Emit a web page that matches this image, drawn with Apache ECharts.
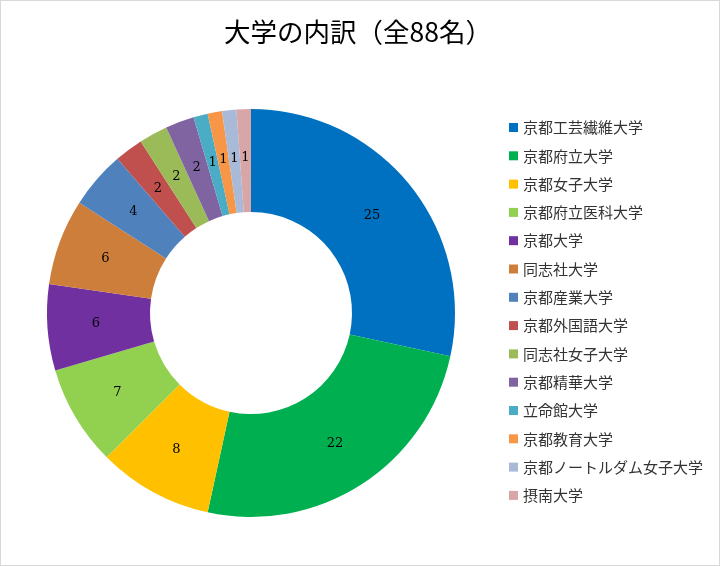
<!DOCTYPE html>
<html><head><meta charset="utf-8">
<script src="https://cdn.jsdelivr.net/npm/echarts@6/dist/echarts.min.js"></script>
<style>html,body{margin:0;padding:0;background:#fff}#c{width:718px;height:564px;border:1px solid #d9d9d9}</style>
</head><body><div id="c"></div>
<script>
const categories = ['京都工芸繊維大学','京都府立大学','京都女子大学','京都府立医科大学','京都大学','同志社大学','京都産業大学','京都外国語大学','同志社女子大学','京都精華大学','立命館大学','京都教育大学','京都ノートルダム女子大学','摂南大学'];
const values = [25,22,8,7,6,6,4,2,2,2,1,1,1,1];
const colors = ['#0070C0','#00B050','#FFC000','#92D050','#7030A0','#CE7E3B','#4F81BD','#C0504D','#9BBB59','#8064A2','#4BACC6','#F79646','#A9B9D8','#D8A6A6'];
const chart = echarts.init(document.getElementById('c'));
chart.setOption({
  animation:false,
  color: colors,
  title:{text:'大学の内訳（全88名）',left:218,top:13,textStyle:{fontFamily:'Noto Sans CJK JP',fontSize:26.5,fontWeight:'normal',color:'#000'}},
  legend:{orient:'vertical',left:503,top:114,itemWidth:9,itemHeight:9,itemGap:13.3,icon:'rect',
    textStyle:{fontFamily:'Noto Sans CJK JP',fontSize:15,color:'#333'},data:categories},
  series:[{type:'pie',center:[250,312],radius:[101,204],startAngle:90,clockwise:true,
    label:{show:true,position:'inside',formatter:'{c}',fontFamily:'DejaVu Serif',fontSize:13,color:'#000'},
    labelLine:{show:false},emphasis:{disabled:true},
    data:categories.map((n,i)=>({name:n,value:values[i]}))}]
});
</script></body></html>
